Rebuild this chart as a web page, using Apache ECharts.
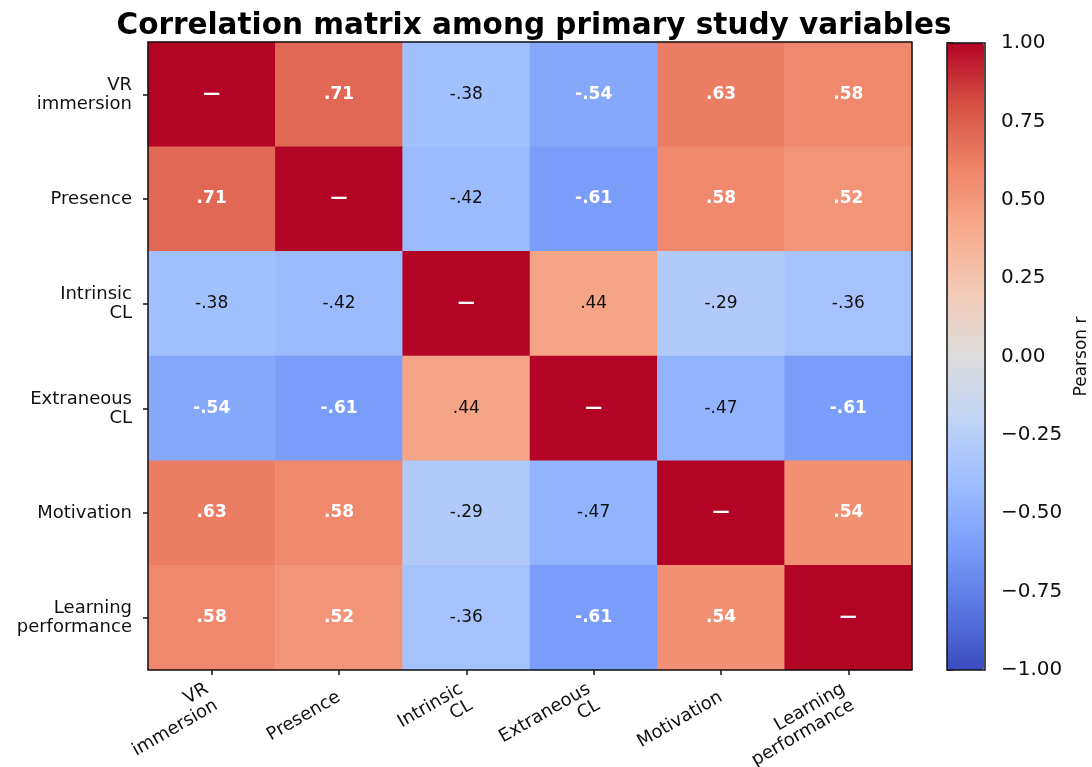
<!DOCTYPE html>
<html>
<head>
<meta charset="utf-8">
<script src="https://cdn.jsdelivr.net/npm/echarts@6/dist/echarts.min.js"></script>
<style>
  html, body { margin: 0; padding: 0; background: #fff; }
  #chart { width: 1092px; height: 767px; }
</style>
</head>
<body>
<div id="chart"></div>
<script>
// Study variables (rows/columns of the matrix)
const variables = [
  'VR\nimmersion',
  'Presence',
  'Intrinsic\nCL',
  'Extraneous\nCL',
  'Motivation',
  'Learning\nperformance'
];

// Pearson correlations, one array per row variable
const rVR          = [1.00,  0.71, -0.38, -0.54,  0.63,  0.58];
const rPresence    = [0.71,  1.00, -0.42, -0.61,  0.58,  0.52];
const rIntrinsic   = [-0.38, -0.42, 1.00,  0.44, -0.29, -0.36];
const rExtraneous  = [-0.54, -0.61, 0.44,  1.00, -0.47, -0.61];
const rMotivation  = [0.63,  0.58, -0.29, -0.47,  1.00,  0.54];
const rLearning    = [0.58,  0.52, -0.36, -0.61,  0.54,  1.00];
const matrix = [rVR, rPresence, rIntrinsic, rExtraneous, rMotivation, rLearning];

// Colour-bar ticks
const cbarTicks = [-1.00, -0.75, -0.50, -0.25, 0.00, 0.25, 0.50, 0.75, 1.00];

// Diverging blue-white-red ramp
const coolwarm = ['#3b4cc0', '#5977e3', '#7b9ff9', '#9ebeff', '#c0d4f5', '#dddcdc',
                  '#f2cbb7', '#f7ac8e', '#ee8468', '#d65244', '#b40426'];

const cells = [];
matrix.forEach((row, i) => row.forEach((v, j) => cells.push([j, i, v])));

function fmtR(v) {
  const s = Math.abs(v).toFixed(2).replace(/^0/, '');
  return (v < 0 ? '-' : '') + s;
}

const FONT = 'DejaVu Sans';
const chart = echarts.init(document.getElementById('chart'), null, { renderer: 'canvas' });

chart.setOption({
  backgroundColor: '#ffffff',
  animation: false,
  title: {
    text: 'Correlation matrix among primary study variables',
    left: 529,
    top: 6,
    textAlign: 'center',
    textStyle: { fontFamily: FONT, fontWeight: 'bold', fontSize: 29.5, color: '#000' }
  },
  grid: [
    { left: 148, top: 42, width: 764, height: 628, show: true, z: 10,
      outerBoundsMode: 'none', containLabel: false,
      borderColor: '#111', borderWidth: 1.5, backgroundColor: 'transparent' },
    { left: 947, top: 43, width: 38, height: 627, show: true, z: 10,
      outerBoundsMode: 'none', containLabel: false,
      borderColor: '#111', borderWidth: 1.5, backgroundColor: 'transparent' }
  ],
  xAxis: [
    {
      type: 'category', gridIndex: 0, data: variables,
      splitArea: { show: false },
      axisLine: { show: false },
      axisTick: { show: true, alignWithLabel: true, length: 5, lineStyle: { color: '#111', width: 1.5 } },
      axisLabel: {
        rotate: 30, align: 'right', margin: 26, interval: 0,
        fontFamily: FONT, fontSize: 18, color: '#111', lineHeight: 19
      }
    },
    { type: 'value', gridIndex: 1, show: false, min: 0, max: 1 }
  ],
  yAxis: [
    {
      type: 'category', gridIndex: 0, data: variables, inverse: true,
      axisLine: { show: false },
      axisTick: { show: true, alignWithLabel: true, length: 5, lineStyle: { color: '#111', width: 1.5 } },
      axisLabel: {
        margin: 16, align: 'right', interval: 0,
        fontFamily: FONT, fontSize: 18, color: '#111', lineHeight: 19
      }
    },
    {
      type: 'value', gridIndex: 1, position: 'right',
      min: -1, max: 1, interval: 0.25,
      axisLine: { show: false },
      splitLine: { show: false },
      axisTick: { show: true, length: 6, lineStyle: { color: '#111', width: 1.5 } },
      axisLabel: {
        margin: 16, fontFamily: FONT, fontSize: 20, color: '#111',
        formatter: v => {
          const t = cbarTicks.find(c => Math.abs(c - v) < 1e-9);
          if (t === undefined) return '';
          return (t < 0 ? '\u2212' : '') + Math.abs(t).toFixed(2);
        }
      },
      name: 'Pearson r',
      nameLocation: 'middle',
      nameRotate: 90,
      nameGap: 88,
      nameTextStyle: { fontFamily: FONT, fontSize: 17, color: '#111' }
    }
  ],
  visualMap: {
    type: 'continuous',
    seriesIndex: 0,
    dimension: 2,
    min: -1, max: 1,
    calculable: false,
    orient: 'vertical',
    left: 947, top: 43,
    itemWidth: 37, itemHeight: 627,
    padding: 0,
    text: ['', ''],
    showLabel: false,
    inRange: { color: coolwarm }
  },
  series: [
    {
      type: 'heatmap',
      xAxisIndex: 0, yAxisIndex: 0,
      data: cells,
      label: {
        show: true,
        fontFamily: FONT,
        formatter: p => {
          const v = p.value[2];
          if (p.value[0] === p.value[1]) return '{w|\u2014}';
          return Math.abs(v) >= 0.5 ? '{w|' + fmtR(v) + '}' : '{k|' + fmtR(v) + '}';
        },
        rich: {
          w: { color: '#fff', fontWeight: 'bold', fontSize: 17, fontFamily: FONT },
          k: { color: '#111', fontWeight: 'normal', fontSize: 17, fontFamily: FONT }
        }
      },
      itemStyle: { borderWidth: 0 },
      emphasis: { disabled: true }
    }
  ]
});
</script>
</body>
</html>
